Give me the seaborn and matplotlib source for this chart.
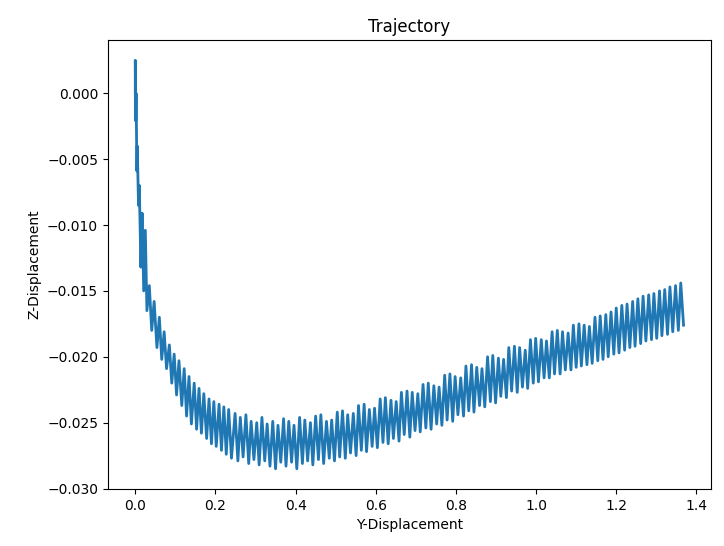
import pandas as pd
import matplotlib
matplotlib.use('Agg')
import matplotlib.pyplot as plt
import seaborn as sns

# steep start of the trajectory, read point by point
start_y = [0.000, 0.000, 0.001, 0.002, 0.004, 0.005, 0.008, 0.010, 0.014, 0.017,
           0.021, 0.025, 0.029, 0.035, 0.041, 0.047, 0.054, 0.060, 0.066, 0.072,
           0.078, 0.085, 0.091, 0.097, 0.103, 0.109, 0.116, 0.122, 0.128, 0.134,
           0.140, 0.147, 0.153, 0.159, 0.165, 0.171, 0.178, 0.184, 0.190, 0.196,
           0.202, 0.209, 0.215, 0.221, 0.227, 0.233, 0.240]
start_z = [0.0000, 0.0025, -0.0021, 0.0000, -0.0059, -0.0040, -0.0085, -0.0070, -0.0132, -0.0091,
           -0.0150, -0.0104, -0.0165, -0.0146, -0.0180, -0.0158, -0.0193, -0.0170, -0.0202, -0.0181,
           -0.0209, -0.0191, -0.0220, -0.0198, -0.0229, -0.0203, -0.0237, -0.0209, -0.0245, -0.0215,
           -0.0251, -0.0220, -0.0255, -0.0224, -0.0258, -0.0228, -0.0262, -0.0232, -0.0266, -0.0234,
           -0.0268, -0.0236, -0.0271, -0.0238, -0.0274, -0.0240, -0.0277]

# oscillation peaks after the start
peak_y = [0.249, 0.262, 0.276, 0.289, 0.303, 0.316, 0.329, 0.343, 0.356, 0.370,
          0.383, 0.396, 0.410, 0.423, 0.437, 0.450, 0.463, 0.477, 0.490, 0.504,
          0.517, 0.530, 0.544, 0.557, 0.571, 0.584, 0.597, 0.611, 0.624, 0.638,
          0.651, 0.664, 0.678, 0.691, 0.705, 0.718, 0.731, 0.745, 0.758, 0.772,
          0.785, 0.798, 0.812, 0.825, 0.839, 0.852, 0.865, 0.879, 0.892, 0.906,
          0.919, 0.932, 0.946, 0.959, 0.973, 0.986, 0.999, 1.013, 1.026, 1.040,
          1.053, 1.066, 1.080, 1.093, 1.107, 1.120, 1.133, 1.147, 1.160, 1.174,
          1.187, 1.200, 1.214, 1.227, 1.241, 1.254, 1.267, 1.281, 1.294, 1.308,
          1.321, 1.334, 1.348, 1.361]
peak_z = [-0.0243, -0.0246, -0.0244, -0.0249, -0.0250, -0.0246, -0.0251, -0.0249, -0.0252, -0.0247,
          -0.0249, -0.0252, -0.0246, -0.0248, -0.0250, -0.0245, -0.0244, -0.0249, -0.0248, -0.0242,
          -0.0241, -0.0244, -0.0243, -0.0237, -0.0236, -0.0240, -0.0239, -0.0232, -0.0231, -0.0233,
          -0.0234, -0.0227, -0.0226, -0.0227, -0.0228, -0.0221, -0.0220, -0.0222, -0.0223, -0.0214,
          -0.0213, -0.0215, -0.0216, -0.0207, -0.0206, -0.0208, -0.0209, -0.0200, -0.0199, -0.0201,
          -0.0202, -0.0193, -0.0192, -0.0193, -0.0195, -0.0187, -0.0186, -0.0187, -0.0188, -0.0181,
          -0.0180, -0.0181, -0.0182, -0.0176, -0.0175, -0.0176, -0.0177, -0.0170, -0.0169, -0.0168,
          -0.0166, -0.0163, -0.0161, -0.0160, -0.0158, -0.0156, -0.0154, -0.0153, -0.0152, -0.0150,
          -0.0149, -0.0147, -0.0146, -0.0144]

# oscillation troughs after the start
trough_y = [0.256, 0.269, 0.283, 0.296, 0.309, 0.323, 0.336, 0.350, 0.363, 0.376,
            0.390, 0.403, 0.417, 0.430, 0.443, 0.457, 0.470, 0.484, 0.497, 0.510,
            0.524, 0.537, 0.551, 0.564, 0.577, 0.591, 0.604, 0.618, 0.631, 0.644,
            0.658, 0.671, 0.685, 0.698, 0.711, 0.725, 0.738, 0.752, 0.765, 0.778,
            0.792, 0.805, 0.819, 0.832, 0.845, 0.859, 0.872, 0.886, 0.899, 0.912,
            0.926, 0.939, 0.953, 0.966, 0.979, 0.993, 1.006, 1.020, 1.033, 1.046,
            1.060, 1.073, 1.087, 1.100, 1.113, 1.127, 1.140, 1.154, 1.167, 1.180,
            1.194, 1.207, 1.221, 1.234, 1.247, 1.261, 1.274, 1.288, 1.301, 1.314,
            1.328, 1.341, 1.355]
trough_z = [-0.0279, -0.0276, -0.0281, -0.0278, -0.0282, -0.0279, -0.0283, -0.0285, -0.0280, -0.0283,
            -0.0280, -0.0285, -0.0281, -0.0279, -0.0282, -0.0278, -0.0281, -0.0277, -0.0279, -0.0276,
            -0.0277, -0.0273, -0.0275, -0.0271, -0.0272, -0.0268, -0.0269, -0.0265, -0.0266, -0.0262,
            -0.0264, -0.0259, -0.0261, -0.0256, -0.0257, -0.0254, -0.0255, -0.0251, -0.0252, -0.0248,
            -0.0249, -0.0244, -0.0245, -0.0241, -0.0242, -0.0237, -0.0238, -0.0234, -0.0235, -0.0230,
            -0.0231, -0.0226, -0.0227, -0.0223, -0.0224, -0.0220, -0.0219, -0.0216, -0.0216, -0.0213,
            -0.0213, -0.0210, -0.0210, -0.0208, -0.0207, -0.0206, -0.0205, -0.0203, -0.0202, -0.0200,
            -0.0198, -0.0197, -0.0195, -0.0193, -0.0192, -0.0190, -0.0188, -0.0187, -0.0186, -0.0184,
            -0.0183, -0.0181, -0.0180]

end_y = 1.368
end_z = -0.0176

# put the points back in time order
traj_y = list(start_y)
traj_z = list(start_z)
for i in range(len(trough_y)):
    traj_y += [peak_y[i], trough_y[i]]
    traj_z += [peak_z[i], trough_z[i]]
traj_y += [peak_y[-1], end_y]
traj_z += [peak_z[-1], end_z]

df = pd.DataFrame({'Y': traj_y, 'Z': traj_z})

fig, ax = plt.subplots(figsize=(7.24, 5.46), dpi=100)
fig.subplots_adjust(left=0.149, right=0.982, top=0.927, bottom=0.104)

sns.lineplot(data=df, x='Y', y='Z', sort=False, estimator=None,
             color='#1f77b4', linewidth=2.0, ax=ax)

ax.set_title('Trajectory')
ax.set_xlabel('Y-Displacement')
ax.set_ylabel('Z-Displacement')

plt.savefig('out.png', dpi=100)
